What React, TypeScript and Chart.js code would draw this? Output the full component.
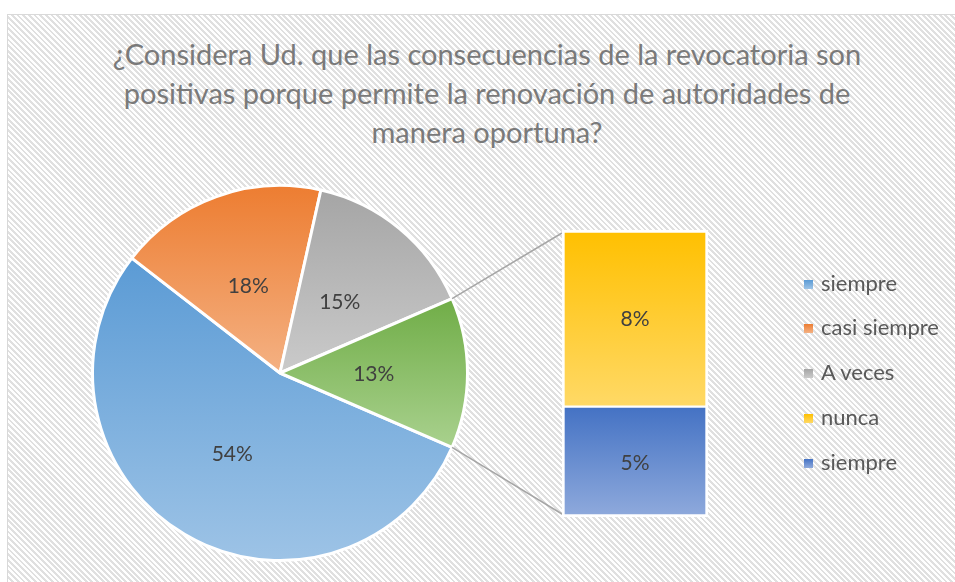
import React, { useEffect, useRef } from "react";
import { Chart, registerables } from "chart.js";
Chart.register(...registerables);

const TITLE_LINES = [
  "¿Considera Ud. que las consecuencias de la revocatoria son",
  "positivas porque permite la renovación de autoridades de",
  "manera oportuna?",
];
const CATEGORIES = ["siempre", "casi siempre", "A veces", "nunca", "siempre"];
const VALUES = [54, 18, 15, 8, 5];
const PIE_COUNT = 3; // first three in the pie, the rest go to the bar
const TOP_COLORS = ["#5b9bd5", "#ed7d31", "#a5a5a5", "#ffc000", "#4472c4"];
const BOTTOM_COLORS = ["#9dc3e6", "#f4b183", "#cacaca", "#ffd966", "#8faadc"];
const OTHER_TOP = "#70ad47";
const OTHER_BOTTOM = "#a9d18e";

const TOTAL = VALUES.reduce((a, b) => a + b, 0);
const REST_IDX = VALUES.map((_, i) => i).slice(PIE_COUNT);
const REST_TOTAL = REST_IDX.reduce((a, i) => a + VALUES[i], 0);
const PIE_VALUES = [...VALUES.slice(0, PIE_COUNT), REST_TOTAL];
const PIE_TOP = [...TOP_COLORS.slice(0, PIE_COUNT), OTHER_TOP];
const PIE_BOTTOM = [...BOTTOM_COLORS.slice(0, PIE_COUNT), OTHER_BOTTOM];
const PIE_ROTATION = 90 + (REST_TOTAL / TOTAL) * 180;
const BAR_ORDER = [...REST_IDX].reverse(); // bottom first

const W = 955;
const H = 582;
const R = 187.5;
const BAR_LEFT = 562;
const BAR_TOP = 230;
const BAR_W = 146;
const BAR_H = 287;
const LABEL_FONT = "21px Lato";
const LABEL_COLOR = "#404040";

const pct = (v: number) => Math.round((v / TOTAL) * 100) + "%";

export default function App() {
  const pieRef = useRef<HTMLCanvasElement>(null);
  const barRef = useRef<HTMLCanvasElement>(null);

  useEffect(() => {
    const barGradient = (c: any, k: number) => {
      const i = BAR_ORDER[k];
      const y = c.chart.scales?.y;
      if (!y || y.top === undefined || c.dataIndex === undefined) return TOP_COLORS[i];
      let lower = 0;
      for (let j = 0; j < k; j++) lower += VALUES[BAR_ORDER[j]];
      const upper = lower + VALUES[i];
      const g = c.chart.ctx.createLinearGradient(0, y.getPixelForValue(upper), 0, y.getPixelForValue(lower));
      g.addColorStop(0, TOP_COLORS[i]);
      g.addColorStop(1, BOTTOM_COLORS[i]);
      return g;
    };

    const barLabels = {
      id: "barLabels",
      afterDatasetsDraw(chart: any) {
        const ctx = chart.ctx;
        ctx.save();
        ctx.font = LABEL_FONT;
        ctx.fillStyle = LABEL_COLOR;
        ctx.textAlign = "center";
        ctx.textBaseline = "middle";
        chart.data.datasets.forEach((ds: any, k: number) => {
          const bar = chart.getDatasetMeta(k).data[0];
          const p = bar.getCenterPoint();
          ctx.fillText(pct(ds.data[0]), p.x, p.y + 1);
        });
        ctx.restore();
      },
    };

    const barChart = new Chart(barRef.current!, {
      type: "bar",
      data: {
        labels: ["otros"],
        datasets: BAR_ORDER.map((i, k) => ({
          label: CATEGORIES[i],
          data: [VALUES[i]],
          backgroundColor: (c: any) => barGradient(c, k),
          borderColor: "#ffffff",
          borderWidth:
            k === BAR_ORDER.length - 1
              ? { top: 3, left: 3, right: 3, bottom: 1.5 }
              : k === 0
              ? { top: 1.5, left: 3, right: 3, bottom: 3 }
              : { top: 1.5, left: 3, right: 3, bottom: 1.5 },
          borderSkipped: false,
          barPercentage: 1,
          categoryPercentage: 1,
        })),
      },
      options: {
        animation: false,
        responsive: false,
        maintainAspectRatio: false,
        events: [],
        layout: { padding: 0 },
        plugins: { legend: { display: false }, tooltip: { enabled: false } },
        scales: {
          x: { stacked: true, display: false },
          y: { stacked: true, display: false, min: 0, max: REST_TOTAL },
        },
      },
      plugins: [barLabels],
    } as any);

    const arcGradient = (c: any) => {
      const i = c.dataIndex;
      const area = c.chart.chartArea;
      if (i === undefined || !area) return PIE_TOP[0];
      const cx = (area.left + area.right) / 2;
      const cy = (area.top + area.bottom) / 2;
      const data = c.dataset.data as number[];
      const tot = data.reduce((a, b) => a + b, 0);
      let before = 0;
      for (let j = 0; j < i; j++) before += data[j];
      const start = ((PIE_ROTATION - 90) * Math.PI) / 180 + (before / tot) * 2 * Math.PI;
      const end = start + (data[i] / tot) * 2 * Math.PI;
      let minY = cy;
      let maxY = cy;
      for (let s = 0; s <= 90; s++) {
        const a = start + ((end - start) * s) / 90;
        const yy = cy + R * Math.sin(a);
        minY = Math.min(minY, yy);
        maxY = Math.max(maxY, yy);
      }
      const g = c.chart.ctx.createLinearGradient(0, minY, 0, maxY);
      g.addColorStop(0, PIE_TOP[i]);
      g.addColorStop(1, PIE_BOTTOM[i]);
      return g;
    };

    const pieExtras = {
      id: "pieExtras",
      afterDatasetsDraw(chart: any) {
        const ctx = chart.ctx;
        const meta = chart.getDatasetMeta(0);
        const data = chart.data.datasets[0].data as number[];
        ctx.save();
        // connector lines from the "other" slice to the bar
        const other = meta.data[meta.data.length - 1] as any;
        const topBar = barChart.getDatasetMeta(BAR_ORDER.length - 1).data[0] as any;
        const botBar = barChart.getDatasetMeta(0).data[0] as any;
        const bx = BAR_LEFT + topBar.x - topBar.width / 2;
        const by1 = BAR_TOP + topBar.y + 3;
        const by2 = BAR_TOP + botBar.base - 3;
        const r = other.outerRadius;
        ctx.strokeStyle = "#a6a6a6";
        ctx.lineWidth = 1.5;
        ctx.beginPath();
        ctx.moveTo(other.x + r * Math.cos(other.startAngle), other.y + r * Math.sin(other.startAngle));
        ctx.lineTo(bx, by1);
        ctx.moveTo(other.x + r * Math.cos(other.endAngle), other.y + r * Math.sin(other.endAngle));
        ctx.lineTo(bx, by2);
        ctx.stroke();
        // labels
        ctx.font = LABEL_FONT;
        ctx.fillStyle = LABEL_COLOR;
        ctx.textAlign = "center";
        ctx.textBaseline = "middle";
        meta.data.forEach((arc: any, i: number) => {
          const p = arc.tooltipPosition();
          ctx.fillText(pct(data[i]), p.x, p.y + 1);
        });
        ctx.restore();
      },
    };

    const pieChart = new Chart(pieRef.current!, {
      type: "pie",
      data: {
        labels: [...CATEGORIES.slice(0, PIE_COUNT), "otros"],
        datasets: [
          {
            data: PIE_VALUES,
            backgroundColor: arcGradient,
            borderColor: "#ffffff",
            borderWidth: 3,
            radius: R,
          },
        ],
      },
      options: {
        animation: false,
        responsive: false,
        maintainAspectRatio: false,
        events: [],
        rotation: PIE_ROTATION,
        layout: { padding: { left: 0, right: W - 560, top: 164, bottom: 0 } },
        plugins: { legend: { display: false }, tooltip: { enabled: false } },
      },
      plugins: [pieExtras],
    } as any);

    return () => {
      pieChart.destroy();
      barChart.destroy();
    };
  }, []);

  return (
    <div
      style={{
        position: "absolute",
        left: 0,
        top: 0,
        width: W,
        height: H,
        overflow: "hidden",
        background: "#ffffff",
        fontFamily: "Lato, sans-serif",
      }}
    >
      <div
        style={{
          position: "absolute",
          left: 7,
          top: 14,
          width: 970,
          height: 600,
          border: "1px solid #d9d9d9",
          background:
            "repeating-linear-gradient(45deg, #ffffff 0px, #ffffff 2px, #e0e0e0 2px, #e0e0e0 4px)",
        }}
      />
      <div
        style={{
          position: "absolute",
          left: 7,
          top: 34,
          width: 960,
          textAlign: "center",
          fontSize: 29,
          lineHeight: "39px",
          color: "#7a7a7a",
          whiteSpace: "nowrap",
        }}
      >
        {TITLE_LINES.map((l, i) => (
          <div key={i}>{l}</div>
        ))}
      </div>
      <canvas
        ref={pieRef}
        width={W}
        height={H}
        style={{ position: "absolute", left: 0, top: 0, width: W, height: H }}
      />
      <canvas
        ref={barRef}
        width={BAR_W}
        height={BAR_H}
        style={{ position: "absolute", left: BAR_LEFT, top: BAR_TOP, width: BAR_W, height: BAR_H }}
      />
      {CATEGORIES.map((c, i) => (
        <div
          key={i}
          style={{
            position: "absolute",
            left: 804,
            top: 272.5 + i * 44.8,
            height: 20,
            lineHeight: "20px",
            fontSize: 22,
            color: "#595959",
            whiteSpace: "nowrap",
          }}
        >
          <span
            style={{
              position: "absolute",
              left: 0,
              top: 7,
              width: 9,
              height: 9,
              background: `linear-gradient(to bottom, ${TOP_COLORS[i]}, ${BOTTOM_COLORS[i]})`,
            }}
          />
          <span style={{ position: "absolute", left: 17 }}>{c}</span>
        </div>
      ))}
    </div>
  );
}
